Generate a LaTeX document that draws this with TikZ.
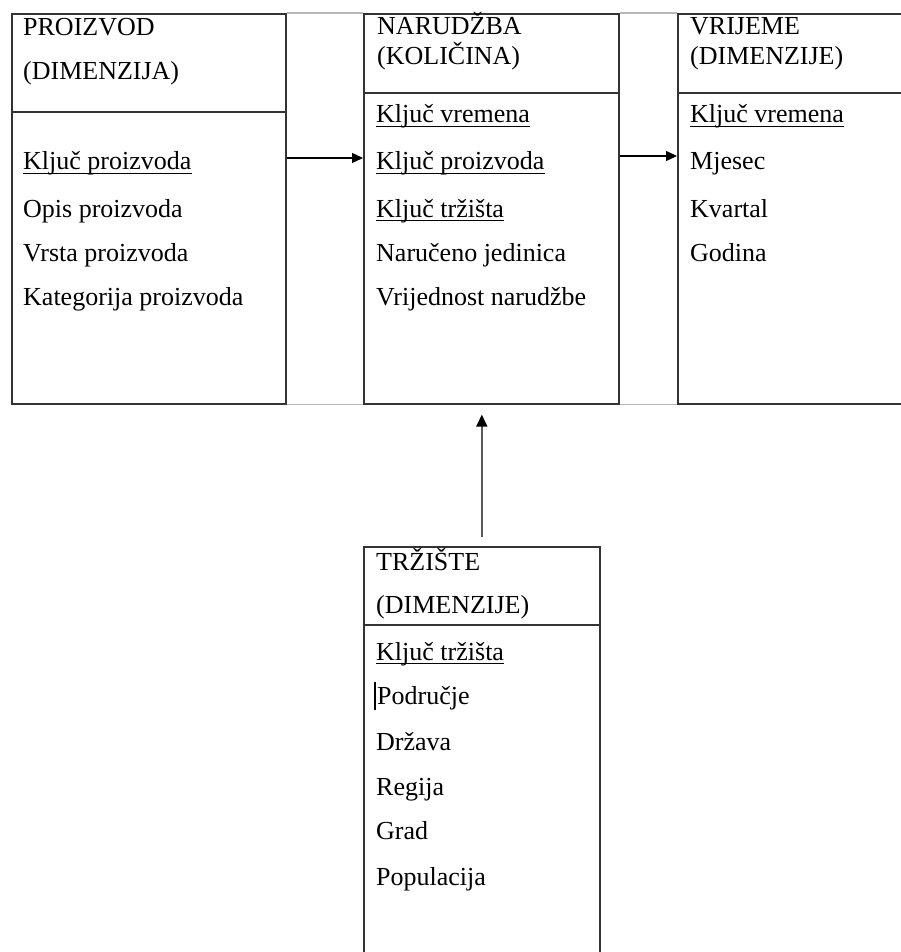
\documentclass[tikz,border=0pt]{standalone}
\usepackage{fontspec}
\setmainfont{Liberation Serif}
\usetikzlibrary{arrows.meta,calc}
\begin{document}
\begin{tikzpicture}[x=1pt,y=-1pt,
  box/.style={draw=black!80,line width=1.6pt,rectangle,inner sep=0pt,anchor=north west},
  divider/.style={draw=black!80,line width=1.6pt},
  greyline/.style={draw=black!28,line width=1.6pt},
  txt/.style={anchor=base west,inner sep=0pt,font=\fontsize{26}{30}\selectfont},
  ulline/.style={draw=black,line width=1.2pt},
  arr/.style={draw=black,line width=1.4pt,-{Triangle[length=11pt,width=10pt]}},
  varr/.style={draw=black!65,line width=1.6pt,-{Triangle[length=12pt,width=11pt,color=black]}}]
\newcommand\ulnode[4]{\node[txt] (#1) at (#2,#3) {#4};
  \draw[ulline] ([yshift=-3.5pt]#1.base west) -- ([yshift=-3.5pt]#1.base east);}
\fill[white] (0,0) rectangle (901,952);
\useasboundingbox (0,0) rectangle (901,952);
\clip (0,0) rectangle (901,952);

% boxes
\node[box,minimum width=274pt,minimum height=390pt] (prod) at (11,13) {};
\node[box,minimum width=255pt,minimum height=390pt] (nar) at (363,13) {};
\node[box,minimum width=250pt,minimum height=390pt] (vri) at (677,13) {};
\node[box,minimum width=236pt,minimum height=420pt] (trz) at (363,546) {};

% grey joins
\draw[greyline] (prod.north east) -- (nar.north west);
\draw[greyline] (nar.north east) -- (vri.north west);
\draw[greyline] (prod.south east) -- (nar.south west);
\draw[greyline] (nar.south east) -- (vri.south west);

% dividers
\draw[divider] (prod.west |- 0,112) -- (prod.east |- 0,112);
\draw[divider] (nar.west |- 0,93) -- (nar.east |- 0,93);
\draw[divider] (vri.west |- 0,93) -- (vri.east |- 0,93);
\draw[divider] (trz.west |- 0,625) -- (trz.east |- 0,625);

% PROIZVOD
\node[txt] (p1) at (23,36) {PROIZVOD};
\node[txt] (p2) at (23,80) {(DIMENZIJA)};
\ulnode{p3}{23}{170}{Ključ proizvoda}
\node[txt] (p4) at (23,217) {Opis proizvoda};
\node[txt] (p5) at (23,261) {Vrsta proizvoda};
\node[txt] (p6) at (23,305) {Kategorija proizvoda};

% NARUDZBA
\node[txt] (n1) at (377,35) {NARUDŽBA};
\node[txt] (n2) at (377,65) {(KOLIČINA)};
\ulnode{n3}{376}{123}{Ključ vremena}
\ulnode{n4}{376}{170}{Ključ proizvoda}
\ulnode{n5}{376}{217}{Ključ tržišta}
\node[txt] (n6) at (376,261) {Naručeno jedinica};
\node[txt] (n7) at (376,305) {Vrijednost narudžbe};

% VRIJEME
\node[txt] (v1) at (690,35) {VRIJEME};
\node[txt] (v2) at (690,65) {(DIMENZIJE)};
\ulnode{v3}{690}{123}{Ključ vremena}
\node[txt] (v4) at (690,170) {Mjesec};
\node[txt] (v5) at (690,217) {Kvartal};
\node[txt] (v6) at (690,261) {Godina};

% TRZISTE
\node[txt] (t1) at (376,570) {TRŽIŠTE};
\node[txt] (t2) at (376,613) {(DIMENZIJE)};
\ulnode{t3}{376}{660}{Ključ tržišta}
\node[txt] (t4) at (377,704) {Područje};
\node[txt] (t5) at (376,750) {Država};
\node[txt] (t6) at (376,795) {Regija};
\node[txt] (t7) at (376,839) {Grad};
\node[txt] (t8) at (376,885) {Populacija};
\draw[line width=2pt] (375,682) -- (375,710);

% connectors
\coordinate (a1) at (0,158);
\coordinate (a2) at (0,156);
\draw[arr] (prod.east |- a1) -- (nar.west |- a1);
\draw[arr] (nar.east |- a2) -- (vri.west |- a2);
\draw[varr,shorten <=9pt,shorten >=10pt] (trz.north) -- (trz.north |- nar.south);
\end{tikzpicture}
\end{document}
